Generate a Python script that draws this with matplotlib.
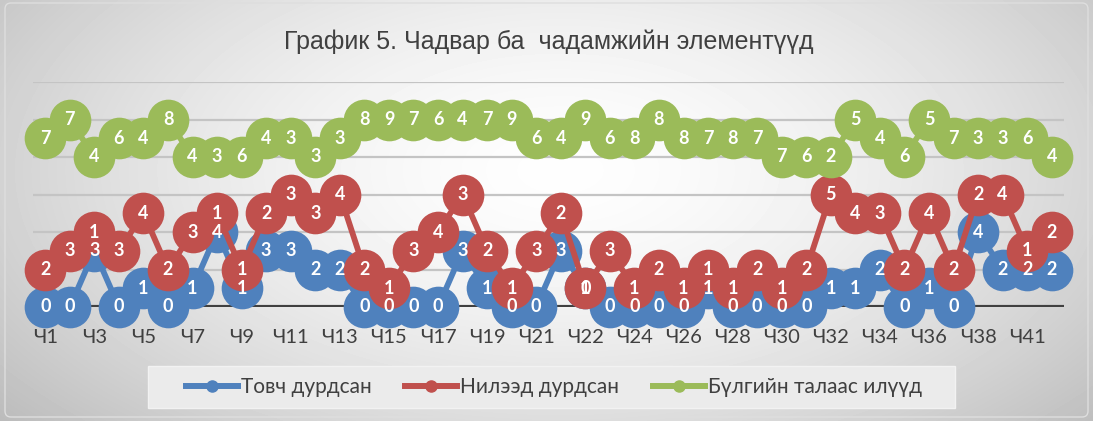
import numpy as np
import matplotlib
matplotlib.use("Agg")
import matplotlib.pyplot as plt
from matplotlib.lines import Line2D
from matplotlib.patches import Rectangle, FancyBboxPatch

# categories (only every second one is labelled on the axis)
categories = ["Ч%d" % n for n in range(1, 22)] + ["Ч21а"] + ["Ч%d" % n for n in range(22, 39)] + ["Ч40", "Ч41", "Ч42"]
categories = categories[:42]
categories[40] = "Ч41"
categories[41] = "Ч42"

# stacked line chart values
tovch = [0, 0, 3, 0, 1, 0, 1, 4, 1, 3, 3, 2, 2, 0, 0, 0, 0, 3, 1, 0, 0,
         3, 1, 0, 0, 0, 0, 1, 0, 0, 0, 0, 1, 1, 2, 0, 1, 0, 4, 2, 2, 2]
nileed = [2, 3, 1, 3, 4, 2, 3, 1, 1, 2, 3, 3, 4, 2, 1, 3, 4, 3, 2, 1, 3,
          2, 0, 3, 1, 2, 1, 1, 1, 2, 1, 2, 5, 4, 3, 2, 4, 2, 2, 4, 1, 2]
bulgiin = [7, 7, 4, 6, 4, 8, 4, 3, 6, 4, 3, 3, 3, 8, 9, 7, 6, 4, 7, 9, 6,
           4, 9, 6, 8, 8, 8, 7, 8, 7, 7, 6, 2, 5, 4, 6, 5, 7, 3, 3, 6, 4]

series_names = ["Товч дурдсан", "Нилээд дурдсан", "Бүлгийн талаас илүүд"]
colors = ["#4F81BD", "#C0504D", "#9BBB59"]
title = "График 5. Чадвар ба  чадамжийн элементүүд"

W, H = 1093, 421
fig = plt.figure(figsize=(W / 100, H / 100), dpi=100)

# radial grey background like the office chart style
bg = fig.add_axes([0, 0, 1, 1], zorder=-10)
yy, xx = np.mgrid[0:H, 0:W]
r = np.sqrt(((xx - 560) / 620.0) ** 2 + ((yy - 170) / 330.0) ** 2)
grad = 0.995 - 0.2 * np.clip(r, 0, 1.3) ** 1.6
bg.imshow(grad, cmap="gray", vmin=0, vmax=1, aspect="auto", extent=[0, W, H, 0])
bg.add_patch(FancyBboxPatch((5, 3), W - 10, H - 7, boxstyle="round,pad=0,rounding_size=6",
                            fill=False, edgecolor="#dedede", linewidth=1.0))
# legend box
bg.add_patch(Rectangle((148, 366), 807, 42, facecolor="#ebebeb", edgecolor="#f2f2f2", linewidth=1))
bg.set_xlim(0, W)
bg.set_ylim(H, 0)
bg.axis("off")

ax = fig.add_axes([33 / W, (H - 307) / H, (1064 - 33) / W, (307 - 82) / H])
ax.patch.set_alpha(0)

x = np.arange(len(categories))
values = [np.array(tovch), np.array(nileed), np.array(bulgiin)]
cum = np.cumsum(values, axis=0)

for yg in range(2, 13, 2):
    ax.axhline(yg, color="#c4c4c4", linewidth=1.6, zorder=0)
ax.axhline(0, color="#404040", linewidth=3, zorder=0)

for k in range(3):
    ax.plot(x, cum[k], color=colors[k], linewidth=4.2, marker="o", markersize=30,
            markeredgewidth=0, zorder=2 + k, solid_capstyle="round", clip_on=False)

for k in range(3):
    for i in range(len(x)):
        ax.text(x[i], cum[k][i], str(values[k][i]), color="white", fontsize=13,
                fontweight="bold", family="Lato", ha="center", va="center", zorder=10,
                clip_on=False)

ax.set_xlim(-0.5, len(categories) - 0.5)
ax.set_ylim(0, 12)
ax.set_yticks([])
ax.set_xticks(x[::2])
ax.set_xticklabels(categories[::2], fontsize=14.5, family="Lato", color="#404040")
ax.tick_params(axis="x", length=0, pad=15.5)
for s in ax.spines.values():
    s.set_visible(False)

fig.text(549 / W, 1 - 42 / H, title, ha="center", va="center", fontsize=18,
         family="Liberation Sans", color="#404040")

handles = [Line2D([0], [0], color=c, linewidth=4.3, marker="o", markersize=8) for c in colors]
fig.legend(handles, series_names, loc="center", bbox_to_anchor=(554 / W, 1 - 387 / H), ncol=3,
           frameon=False, prop={"family": "Lato", "size": 15}, handlelength=2.5,
           handletextpad=0.15, columnspacing=1.6, labelcolor="#404040")

fig.savefig("out.png", dpi=100)
